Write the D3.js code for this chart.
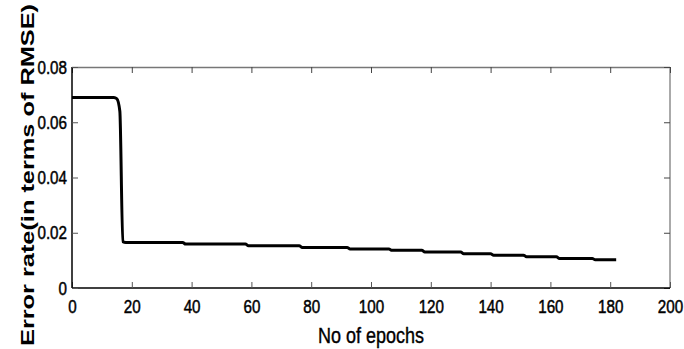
<!DOCTYPE html>
<html>
<head>
<meta charset="utf-8">
<script src="https://cdn.jsdelivr.net/npm/d3@7"></script>
<style>
  body { margin: 0; background: #fff; }
  .tick text { font-family: "Liberation Sans", Arial, sans-serif; font-size: 19px; fill: #000; stroke: #000; stroke-width: 0.5px; }
</style>
</head>
<body>
<div class="chart"></div>
<script>
// data
var epochs = [0, 14, 15, 16, 17, 18, 37, 38, 58, 59, 76, 77, 92, 93, 106, 107, 117, 118, 130, 131, 140, 141, 151, 152, 162, 163, 174, 175, 182];
var errorRate = [0.069, 0.069, 0.0685, 0.064, 0.0168, 0.0165, 0.0165, 0.0159, 0.0159, 0.0153, 0.0153, 0.0147, 0.0147, 0.0141, 0.0141, 0.01365, 0.01365, 0.0130, 0.0130, 0.0124, 0.0124, 0.0119, 0.0119, 0.0113, 0.0113, 0.0107, 0.0107, 0.0102, 0.0102];
var xTicks = [0, 20, 40, 60, 80, 100, 120, 140, 160, 180, 200];
var yTicks = [0, 0.02, 0.04, 0.06, 0.08];
var yTickLabels = ["0", "0.02", "0.04", "0.06", "0.08"];

var svgWidth = 684;
var svgHeight = 349;

var margin = {
  top: 67,
  right: 14,
  bottom: 61,
  left: 72
};

var width = svgWidth - margin.left - margin.right;
var height = svgHeight - margin.top - margin.bottom;

// no narrow font installed, so squeeze text horizontally
var narrow = 0.8;

var svg = d3.select(".chart")
  .append("svg")
  .attr("width", svgWidth)
  .attr("height", svgHeight);

var chartGroup = svg.append("g")
  .attr("transform", `translate(${margin.left}, ${margin.top})`);

var xScale = d3.scaleLinear().domain([0, 200]).range([0, width]);
var yScale = d3.scaleLinear().domain([0, 0.08]).range([height, 0]);

// frame (top/right drawn lighter like the original)
chartGroup.append("line")
  .attr("x1", 0).attr("x2", width).attr("y1", 0.5).attr("y2", 0.5)
  .attr("stroke", "#777").attr("stroke-width", 1.5);
chartGroup.append("line")
  .attr("x1", width).attr("x2", width).attr("y1", 0).attr("y2", height)
  .attr("stroke", "#aaa").attr("stroke-width", 2);

// inward ticks on top and right
chartGroup.append("g")
  .call(d3.axisTop(xScale).tickValues(xTicks).tickSize(-6).tickFormat(""))
  .call(g => g.select(".domain").remove())
  .selectAll("line").attr("stroke", "#444");
chartGroup.append("g")
  .attr("transform", `translate(${width}, 0)`)
  .call(d3.axisRight(yScale).tickValues(yTicks).tickSize(-6).tickFormat(""))
  .call(g => g.select(".domain").remove())
  .selectAll("line").attr("stroke", "#444");

// bottom axis
var xAxis = chartGroup.append("g")
  .attr("transform", `translate(0, ${height})`)
  .call(d3.axisBottom(xScale).tickValues(xTicks).tickSize(-6).tickPadding(12).tickFormat(d3.format("d")));
xAxis.select(".domain").attr("stroke", "#000").attr("stroke-width", 1.5).attr("d", `M0,0H${width}`);
xAxis.selectAll(".tick line").attr("stroke", "#555");
xAxis.selectAll(".tick text").attr("transform", `scale(${narrow},1)`);

// left axis
var yAxis = chartGroup.append("g")
  .call(d3.axisLeft(yScale).tickValues(yTicks).tickSize(-6).tickPadding(5).tickFormat((d, i) => yTickLabels[i]));
yAxis.select(".domain").attr("stroke", "#000").attr("stroke-width", 1.5).attr("d", `M0,0V${height}`);
yAxis.selectAll(".tick line").attr("stroke", "#555");
yAxis.selectAll(".tick text")
  .attr("x", -5 / narrow)
  .attr("transform", `scale(${narrow},1)`);

// the curve
var line = d3.line()
  .x((d, i) => xScale(epochs[i]))
  .y(d => yScale(d))
  .curve(d3.curveMonotoneX);

chartGroup.append("path")
  .datum(errorRate)
  .attr("fill", "none")
  .attr("stroke", "#000")
  .attr("stroke-width", 3)
  .attr("stroke-linejoin", "round")
  .attr("d", line);

// axis titles
svg.append("text")
  .attr("transform", `translate(${margin.left + width / 2}, 343) scale(0.8,1)`)
  .attr("text-anchor", "middle")
  .style("font-family", "'Liberation Sans', Arial, sans-serif")
  .style("font-size", "22.5px")
  .style("stroke", "#000")
  .style("stroke-width", "0.4px")
  .text("No of epochs");

svg.append("text")
  .attr("transform", "translate(34, 175) rotate(-90)")
  .attr("text-anchor", "middle")
  .attr("textLength", 342)
  .attr("lengthAdjust", "spacingAndGlyphs")
  .style("font-family", "'Liberation Sans', Arial, sans-serif")
  .style("font-weight", "bold")
  .style("font-size", "18.5px")
  .text("Error rate(in terms of RMSE)");
</script>
</body>
</html>
